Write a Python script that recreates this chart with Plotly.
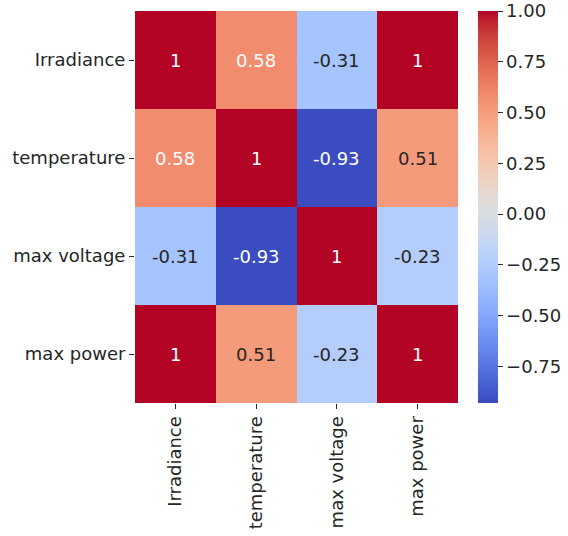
import plotly.graph_objects as go

labels = ["Irradiance", "temperature", "max voltage", "max power"]
row_irr = [1.0, 0.58, -0.31, 1.0]
row_temp = [0.58, 1.0, -0.93, 0.51]
row_volt = [-0.31, -0.93, 1.0, -0.23]
row_pow = [1.0, 0.51, -0.23, 1.0]
corr = [row_irr, row_temp, row_volt, row_pow]
cbar_ticks = [1.0, 0.75, 0.5, 0.25, 0.0, -0.25, -0.5, -0.75]

coolwarm_rgb = [
    (59, 76, 192), (68, 90, 204), (77, 104, 215), (87, 117, 225), (98, 130, 234),
    (108, 142, 241), (119, 154, 247), (130, 165, 251), (141, 176, 254), (152, 185, 255),
    (163, 194, 255), (174, 201, 253), (184, 208, 249), (194, 213, 244), (204, 217, 238),
    (213, 219, 230), (221, 221, 221), (229, 216, 209), (236, 211, 197), (241, 204, 184),
    (245, 196, 172), (247, 187, 159), (247, 177, 147), (247, 166, 134), (244, 154, 123),
    (241, 141, 111), (236, 127, 99), (229, 112, 89), (222, 96, 78), (213, 80, 68),
    (203, 62, 58), (192, 40, 47), (180, 4, 38),
]
n = len(coolwarm_rgb)
colorscale = [[i / (n - 1), "rgb(%d,%d,%d)" % c] for i, c in enumerate(coolwarm_rgb)]

zmin, zmax = -0.93, 1.0
FS = 18
FONT = "DejaVu Sans"

fig = go.Figure()
fig.add_trace(go.Heatmap(
    z=corr, x=labels, y=labels,
    colorscale=colorscale, zmin=zmin, zmax=zmax,
    xgap=0, ygap=0,
    colorbar=dict(
        x=1.062, xanchor="left", xref="paper",
        y=0.5, yanchor="middle", len=1.0, lenmode="fraction",
        thickness=20, outlinewidth=0, xpad=0, ypad=0,
        tickvals=cbar_ticks, tickformat=".2f",
        ticks="outside", ticklen=5, tickcolor="#262626", tickwidth=1,
        ticklabeloverflow="allow",
        tickfont=dict(family=FONT, size=FS, color="#262626"),
    ),
    hoverinfo="skip",
))


def lin(c):
    c = c / 255
    return c / 12.92 if c <= 0.03928 else ((c + 0.055) / 1.055) ** 2.4


annotations = []
for i, row in enumerate(corr):
    for j, v in enumerate(row):
        t = (v - zmin) / (zmax - zmin)
        idx = min(int(round(t * (n - 1))), n - 1)
        r, g, b = coolwarm_rgb[idx]
        lum = 0.2126 * lin(r) + 0.7152 * lin(g) + 0.0722 * lin(b)
        color = "#262626" if lum > 0.408 else "white"
        annotations.append(dict(
            x=labels[j], y=labels[i], text="%.2g" % v, showarrow=False,
            font=dict(family=FONT, size=FS, color=color),
        ))

fig.update_layout(
    width=568, height=536,
    margin=dict(l=135, r=110, t=11, b=133, autoexpand=False),
    paper_bgcolor="white", plot_bgcolor="white",
    annotations=annotations,
    xaxis=dict(
        tickangle=-90, ticks="outside", ticklen=5, tickcolor="#262626",
        tickfont=dict(family=FONT, size=FS, color="#262626"),
        showgrid=False, zeroline=False, showline=False, automargin=False,
    ),
    yaxis=dict(
        autorange="reversed", ticks="outside", ticklen=5, tickcolor="#262626",
        tickfont=dict(family=FONT, size=FS, color="#262626"),
        showgrid=False, zeroline=False, showline=False, automargin=False,
    ),
)

# remove the page's default 8px body margin so the figure fills the window
fig.write_html(
    "out.html",
    config={"displayModeBar": False},
    post_script="document.body.style.margin='0';",
)
